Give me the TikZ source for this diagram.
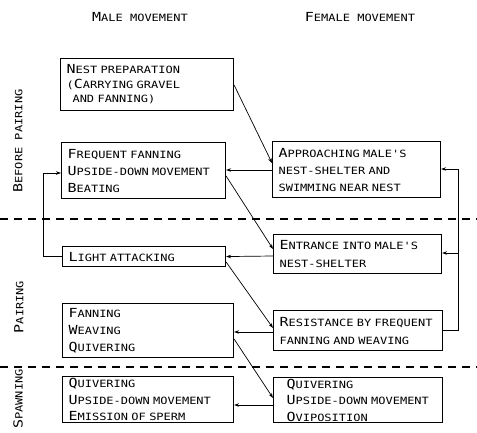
\documentclass[tikz,border=0pt]{standalone}
\usepackage{fontspec}
\newfontfamily\lett[FakeStretch=1.2]{DejaVu Sans Mono}
\usetikzlibrary{arrows.meta}
\newcommand\BigL[1]{{\fontsize{12.5}{12.5}\selectfont #1}}
\begin{document}
\begin{tikzpicture}[x=1pt,y=-1pt,
  box/.style={draw, line width=1.1pt, anchor=north west, inner xsep=6pt, inner ysep=0pt,
    align=left, font=\lett\fontsize{10}{17}\selectfont},
  conn/.style={line width=0.7pt, -{Stealth[length=5pt,width=3.5pt]}},
  sepline/.style={line width=1.1pt, dash pattern=on 8pt off 6pt},
  lab/.style={font=\lett\fontsize{10}{12}\selectfont, inner sep=0pt}]
\useasboundingbox (0,0) rectangle (477,432);

% titles
\node[lab] (tm) at (140,17) {\BigL{M}ALE MOVEMENT};
\node[lab] (tf) at (360,17) {\BigL{F}EMALE MOVEMENT};

% phase labels
\node[lab, rotate=90] (sb) at (18,141) {\BigL{B}EFORE PAIRING};
\node[lab, rotate=90] (sp) at (19,307) {\BigL{P}AIRING};
\node[lab, rotate=90] (ss) at (18,399) {\BigL{S}PAWNING};

% separators
\draw[sepline] (0,219) -- (477,219);
\draw[sepline] (0,367) -- (477,367);

% male boxes
\node[box, minimum width=173pt, text width=161pt, minimum height=52pt,
  font=\lett\fontsize{10}{14.5}\selectfont] (nest) at (60,58)
  {\BigL{N}EST PREPARATION\\(\BigL{C}ARRYING GRAVEL\\\hspace*{6pt}AND FANNING)};
\node[box, minimum width=164pt, text width=152pt, minimum height=56pt] (freq) at (61,142)
  {\BigL{F}REQUENT FANNING\\\BigL{U}PSIDE-DOWN MOVEMENT\\\BigL{B}EATING};
\node[box, minimum width=163pt, text width=151pt, minimum height=20pt] (light) at (62,246)
  {\BigL{L}IGHT ATTACKING};
\node[box, minimum width=171pt, text width=159pt, minimum height=54pt] (fan) at (62,303)
  {\BigL{F}ANNING\\\BigL{W}EAVING\\\BigL{Q}UIVERING};
\node[box, minimum width=171pt, text width=159pt, minimum height=46pt,
  font=\lett\fontsize{10}{16.5}\selectfont] (mspawn) at (62,376)
  {\BigL{Q}UIVERING\\\BigL{U}PSIDE-DOWN MOVEMENT\\\BigL{E}MISSION OF SPERM};

% female boxes
\node[box, minimum width=168pt, text width=156pt, minimum height=56pt] (appr) at (272,141)
  {\BigL{A}PPROACHING MALE'S\\NEST-SHELTER AND\\SWIMMING NEAR NEST};
\node[box, minimum width=168pt, text width=156pt, minimum height=39pt,
  font=\lett\fontsize{10}{18}\selectfont] (entr) at (273,234)
  {\BigL{E}NTRANCE INTO MALE'S\\NEST-SHELTER};
\node[box, minimum width=169pt, text width=157pt, minimum height=40pt,
  font=\lett\fontsize{10}{18}\selectfont] (resist) at (273,310)
  {\BigL{R}ESISTANCE BY FREQUENT\\FANNING AND WEAVING};
\node[box, minimum width=169pt, text width=157pt, minimum height=45pt,
  font=\lett\fontsize{10}{16.5}\selectfont] (fspawn) at (273,377)
  {\hspace*{7pt}\BigL{Q}UIVERING\\\hspace*{7pt}\BigL{U}PSIDE-DOWN MOVEMENT\\\hspace*{7pt}\BigL{O}VIPOSITION};

% connectors
\draw[conn] (nest.east |- 0,85) -- (appr.west |- 0,163);
\draw[conn] (appr.west |- 0,170) -- (freq.east |- 0,170);
\draw[conn] (freq.east |- 0,176) -- (entr.west |- 0,249);
\draw[conn] (entr.west |- 0,256) -- (light.east);
\draw[conn] (light.east |- 0,262) -- (resist.west |- 0,328);
\draw[conn] (resist.west |- 0,332) -- (fan.east |- 0,332);
\draw[conn] (fan.east |- 0,339) -- (fspawn.west |- 0,398);
\draw[conn] (fspawn.west |- 0,405) -- (mspawn.east |- 0,405);

% right feedback loop
\coordinate (rtop) at (458,169);
\coordinate (rmid) at (458,253);
\draw[conn] (resist.east) -| (rtop) -- (appr.east |- rtop);
\draw[conn] (rmid) -- (entr.east |- rmid);

% left feedback loop
\coordinate (lc) at (43,173);
\draw[conn] (light.west) -| (lc) -- (freq.west |- lc);
\end{tikzpicture}
\end{document}
